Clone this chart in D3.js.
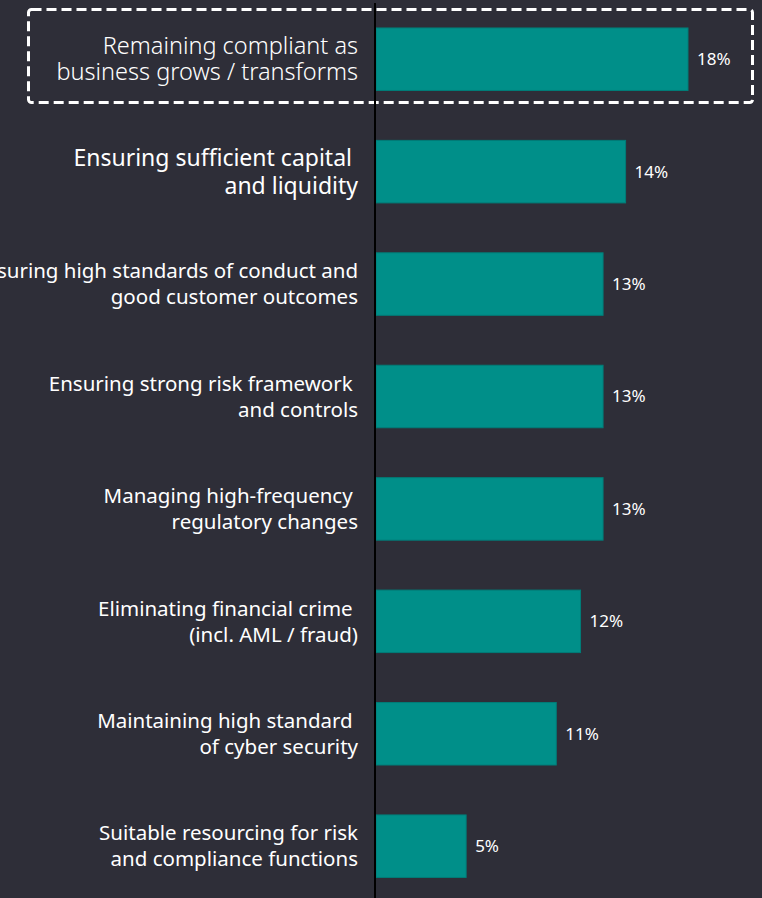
<!DOCTYPE html>
<html>
<head>
<meta charset="utf-8">
<script src="https://cdn.jsdelivr.net/npm/d3@7"></script>
<style>
html,body{margin:0;padding:0;background:#2e2e38;}
svg{display:block;}
</style>
</head>
<body>
<div id="chart"></div>
<script>
const categories = [
  ["Remaining compliant as", "business grows / transforms"],
  ["Ensuring sufficient capital\u00a0", "and liquidity"],
  ["Ensuring high standards of conduct and", "good customer outcomes"],
  ["Ensuring strong risk framework\u00a0", "and controls"],
  ["Managing high-frequency\u00a0", "regulatory changes"],
  ["Eliminating financial crime\u00a0", "(incl. AML / fraud)"],
  ["Maintaining high standard\u00a0", "of cyber security"],
  ["Suitable resourcing for risk", "and compliance functions"]
];
const values = [18.0, 14.4, 13.1, 13.1, 13.1, 11.8, 10.4, 5.2];
const valueLabels = ["18%", "14%", "13%", "13%", "13%", "12%", "11%", "5%"];
const labelSizes = [23.5, 23, 20.5, 20.5, 20.5, 20.5, 20.5, 20.5];
const lineHeights = [26, 28, 26, 26, 26, 26, 26, 26];

const W = 762, H = 898;
const svg = d3.select("#chart").append("svg").attr("width", W).attr("height", H);
svg.append("rect").attr("width", W).attr("height", H).attr("fill", "#2e2e38");

const ids = categories.map((d, i) => i);
const y = d3.scaleBand().domain(ids).range([3, 902.4]).paddingInner(0.444).paddingOuter(0.222);
const x = d3.scaleLinear().domain([0, 18]).range([376, 688]);

// highlight box
svg.append("rect")
  .attr("x", 28.5).attr("y", 9.5).attr("width", 724).attr("height", 93)
  .attr("rx", 3)
  .attr("fill", "none").attr("stroke", "#ffffff").attr("stroke-width", 3)
  .attr("stroke-dasharray", "10 5");

// bars
svg.selectAll("rect.bar").data(values).enter().append("rect")
  .attr("class", "bar")
  .attr("x", x(0))
  .attr("y", (d, i) => y(i))
  .attr("width", d => x(d) - x(0))
  .attr("height", y.bandwidth())
  .attr("fill", "#008f89")
  .attr("stroke", "#007d78").attr("stroke-width", 1);

// value labels
svg.selectAll("text.val").data(values).enter().append("text")
  .attr("class", "val")
  .attr("x", d => x(d) + 9)
  .attr("y", (d, i) => y(i) + y.bandwidth() / 2)
  .attr("dy", "0.35em")
  .attr("fill", "#ffffff")
  .attr("font-family", "'Noto Sans', sans-serif")
  .attr("font-size", 17)
  .text((d, i) => valueLabels[i]);

// category labels
const lab = svg.selectAll("text.cat").data(categories).enter().append("text")
  .attr("class", "cat")
  .attr("text-anchor", "end")
  .attr("fill", "#ffffff")
  .attr("font-family", "'Noto Sans', sans-serif")
  .attr("font-weight", (d, i) => i === 0 ? 300 : 400)
  .attr("font-size", (d, i) => labelSizes[i])
  .attr("xml:space", "preserve")
  .style("white-space", "pre");
lab.each(function(d, i) {
  const t = d3.select(this);
  const lh = lineHeights[i];
  const cy = y(i) + y.bandwidth() / 2;
  d.forEach((line, j) => {
    t.append("tspan")
      .attr("x", 358)
      .attr("y", cy + (j - (d.length - 1) / 2) * lh)
      .attr("dy", "0.35em")
      .text(line);
  });
});

// axis line
const axis = d3.axisLeft(y).tickSize(0).tickFormat("");
svg.append("g").attr("transform", "translate(375,0)").call(axis)
  .call(g => g.select(".domain").attr("stroke", "#000000").attr("stroke-width", 2).attr("d", "M0,3V898"));
</script>
</body>
</html>
